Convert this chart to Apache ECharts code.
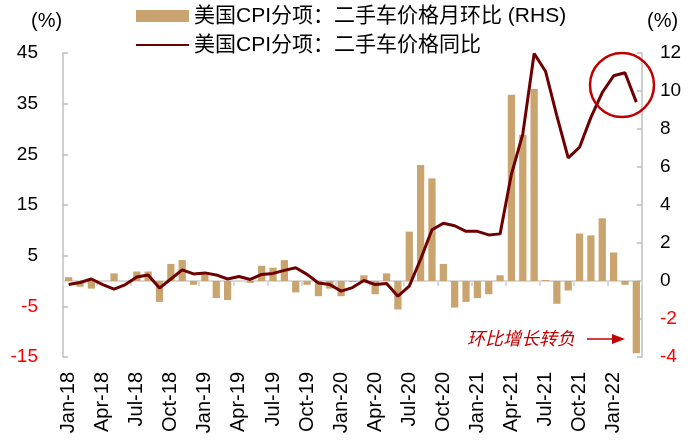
<!DOCTYPE html>
<html><head><meta charset="utf-8">
<script src="https://cdn.jsdelivr.net/npm/echarts@6/dist/echarts.min.js"></script>
<style>html,body{margin:0;padding:0;background:#fff}#c{width:691px;height:448px}</style>
</head><body><div id="c"></div>
<script>
const categories = ['Jan-18','Feb-18','Mar-18','Apr-18','May-18','Jun-18','Jul-18','Aug-18','Sep-18','Oct-18','Nov-18','Dec-18',
'Jan-19','Feb-19','Mar-19','Apr-19','May-19','Jun-19','Jul-19','Aug-19','Sep-19','Oct-19','Nov-19','Dec-19',
'Jan-20','Feb-20','Mar-20','Apr-20','May-20','Jun-20','Jul-20','Aug-20','Sep-20','Oct-20','Nov-20','Dec-20',
'Jan-21','Feb-21','Mar-21','Apr-21','May-21','Jun-21','Jul-21','Aug-21','Sep-21','Oct-21','Nov-21','Dec-21',
'Jan-22','Feb-22','Mar-22'];
// 月环比 (RHS)
const momValues = [0.2,-0.3,-0.4,0.0,0.4,0.0,0.5,0.5,-1.1,0.9,1.1,-0.2,
0.4,-0.9,-1.0,0.0,-0.1,0.8,0.7,1.1,-0.6,-0.2,-0.8,-0.4,
-0.8,-0.05,0.3,-0.7,0.4,-1.5,2.6,6.1,5.4,0.9,-1.4,-1.1,
-0.9,-0.7,0.3,9.8,7.7,10.1,0.05,-1.2,-0.5,2.5,2.4,3.3,
1.5,-0.2,-3.8];
// 同比 (LHS)
const yoyValues = [-0.7,-0.3,0.4,-0.7,-1.6,-0.7,0.8,1.2,-1.4,0.4,2.2,1.4,
1.6,1.2,0.4,0.9,0.3,1.3,1.5,2.1,2.6,1.3,-0.4,-0.7,
-2.0,-1.3,0.1,-0.7,-0.5,-3.0,-1.0,4.3,10.1,11.4,10.9,9.8,
9.8,9.1,9.3,21.1,29.0,44.9,41.4,32.6,24.3,26.4,32.3,37.2,
40.5,41.1,35.3];
const leftTicks = {min:-15, max:45, interval:10};
const rightTicks = {min:-4, max:12, interval:2};
const nameBar = '美国CPI分项：二手车价格月环比 (RHS)';
const nameLine = '美国CPI分项：二手车价格同比';

const FONT = '"Liberation Sans", Arial, "Noto Sans CJK SC", sans-serif';
const axisGray = '#bfbfbf';
const rich = {
  b:{color:'#000', fontSize:19, fontFamily:FONT},
  r:{color:'#ff0000', fontSize:19, fontFamily:FONT}
};
const fmt = v => (v < 0 ? '{r|' + v + '}' : '{b|' + v + '}');

const chart = echarts.init(document.getElementById('c'), null, {renderer:'canvas'});
chart.setOption({
  animation:false,
  backgroundColor:'#fff',
  textStyle:{fontFamily:FONT},
  grid:{left:63, right:49, top:53, bottom:91, containLabel:false},
  legend:{
    orient:'vertical', left:130, top:0, itemWidth:53, itemHeight:12, itemGap:7,
    textStyle:{fontSize:21, color:'#000', fontFamily:FONT, lineHeight:22},
    data:[{name:nameBar, icon:'rect'},
          {name:nameLine, itemStyle:{opacity:0}}]
  },
  xAxis:[{
    type:'category', data:categories, boundaryGap:true,
    axisLine:{show:false, onZero:false}, axisTick:{show:false},
    axisLabel:{interval:2, rotate:90, fontSize:20, color:'#000', margin:15, fontFamily:FONT}
  },{
    type:'category', data:categories, boundaryGap:true, position:'bottom',
    axisLine:{show:true, onZero:true, onZeroAxisIndex:1, lineStyle:{color:'#d9d9d9', width:2}},
    axisTick:{show:true, interval:2, length:5, lineStyle:{color:'#d9d9d9', width:2}},
    axisLabel:{show:false}
  }],
  yAxis:[{
    type:'value', min:leftTicks.min, max:leftTicks.max, interval:leftTicks.interval,
    splitLine:{show:false},
    axisLine:{show:true, lineStyle:{color:axisGray, width:1.5}},
    axisTick:{show:true, inside:true, length:5, lineStyle:{color:axisGray, width:1.5}},
    axisLabel:{margin:25, formatter:fmt, rich:rich}
  },{
    type:'value', min:rightTicks.min, max:rightTicks.max, interval:rightTicks.interval,
    position:'right', splitLine:{show:false},
    axisLine:{show:true, lineStyle:{color:axisGray, width:1.5}},
    axisTick:{show:true, inside:true, length:5, lineStyle:{color:axisGray, width:1.5}},
    axisLabel:{margin:18, formatter:fmt, rich:rich}
  }],
  series:[{
    name:nameBar, type:'bar', xAxisIndex:0, yAxisIndex:1, data:momValues,
    barWidth:'64%', itemStyle:{color:'#c9a46f'}, z:2
  },{
    name:nameLine, type:'line', xAxisIndex:0, yAxisIndex:0, data:yoyValues,
    symbol:'none', lineStyle:{color:'#6e0000', width:3}, itemStyle:{color:'#6e0000'}, z:3
  }],
  graphic:[
    {type:'text', left:31, top:11, style:{text:'(%)', fill:'#000', font:'20px ' + FONT}},
    {type:'text', left:647, top:11, style:{text:'(%)', fill:'#000', font:'20px ' + FONT}},
    {type:'circle', shape:{cx:622, cy:85, r:32}, style:{fill:'none', stroke:'#c00000', lineWidth:2.5}, z:10},
    {type:'text', x:467, y:329, style:{text:'环比增长转负', fill:'#c00000', font:'italic 18px "Noto Sans CJK SC", sans-serif'}, z:10},
    {type:'line', shape:{x1:587, y1:339, x2:614, y2:339}, style:{stroke:'#c00000', lineWidth:1.5}, z:10},
    {type:'polygon', shape:{points:[[612,334],[625,339],[612,344]]}, style:{fill:'#c00000'}, z:10}
  ]
});
</script></body></html>
